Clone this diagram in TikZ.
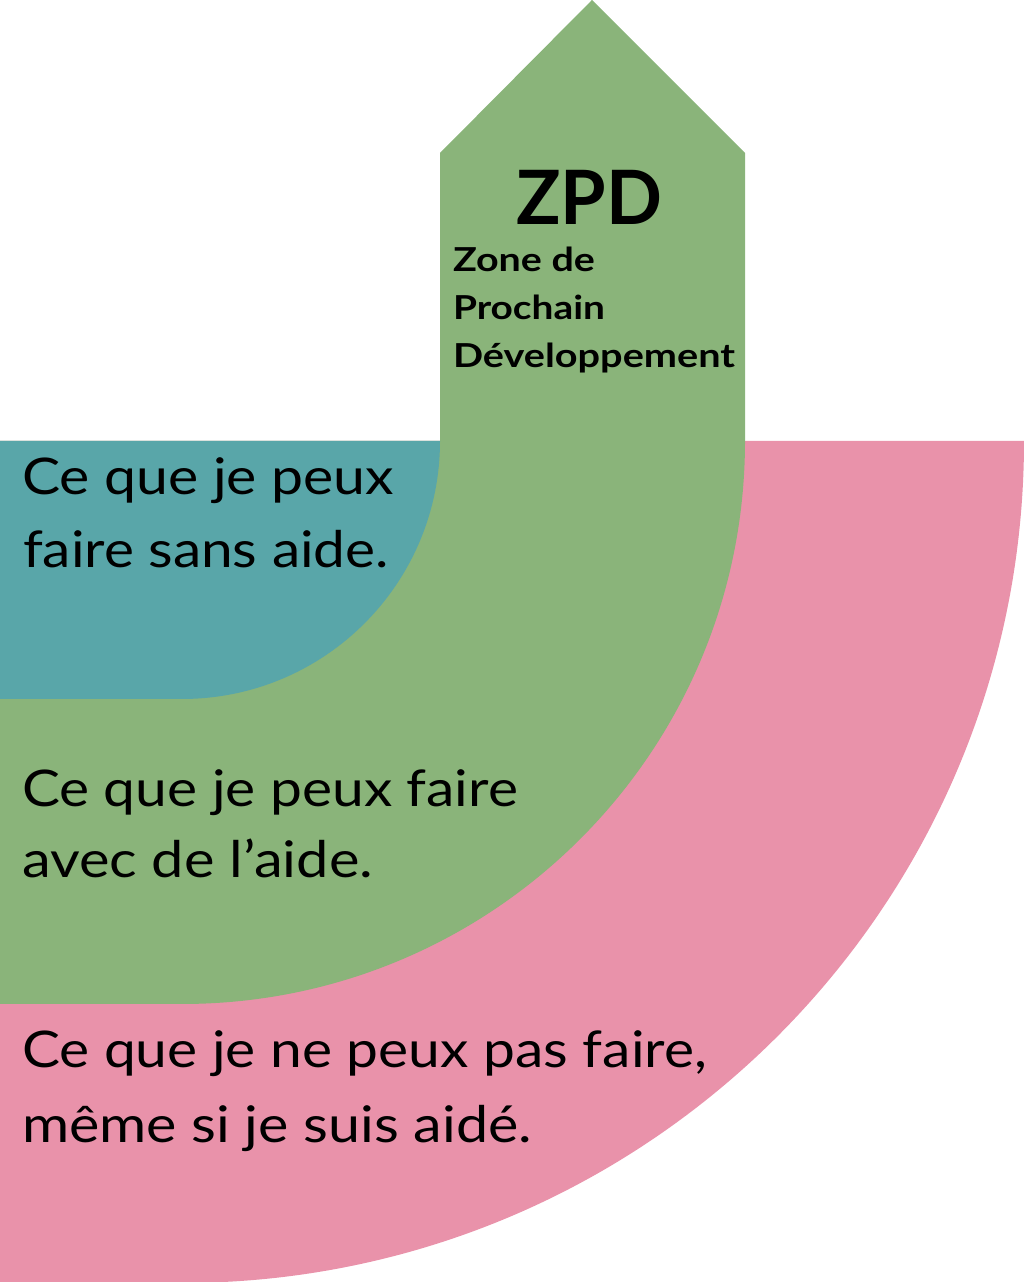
\documentclass[tikz,border=0pt]{standalone}
\usepackage{fontspec}
\setmainfont{Lato}
\usepackage{graphicx}
\definecolor{tealzone}{RGB}{89,166,169}
\definecolor{greenzone}{RGB}{138,180,122}
\definecolor{pinkzone}{RGB}{233,146,170}
\newcommand{\fitw}[2]{\resizebox{#1}{\height}{#2}}
\tikzset{
  lbl/.style={anchor=base west, inner sep=0pt, outer sep=0pt, text=black},
  body/.style={lbl, font=\fontsize{50.5}{60}\selectfont},
  zpdtitle/.style={lbl, font=\bfseries\fontsize{75}{90}\selectfont},
  zpdsub/.style={lbl, font=\bfseries\fontsize{33}{40}\selectfont}
}
\begin{document}
\begin{tikzpicture}[x=1pt,y=1pt]
\useasboundingbox (0,0) rectangle (1024,1282);
% outer zone
\fill[pinkzone] (0,841) -- (1024,841) arc[start angle=0,end angle=-90,radius=842] -- (0,-1) -- cycle;
% ZPD arrow + band
\fill[greenzone] (440,1129) -- (592,1282) -- (745,1129) -- (745,841)
  arc[start angle=0,end angle=-90,radius=563] -- (0,278) -- (0,841) -- (440,841) -- cycle;
% inner zone
\fill[tealzone] (0,841) -- (440,841) arc[start angle=0,end angle=-90,radius=258] -- (0,583) -- cycle;
% texts
\node[body] (a1) at (22,787) {\fitw{372pt}{Ce que je peux}};
\node[body] (a2) at (23,714) {\fitw{366pt}{faire sans aide.}};
\node[body] (b1) at (22,475) {\fitw{496pt}{Ce que je peux faire}};
\node[body] (b2) at (22,404) {\fitw{351pt}{avec de l’aide.}};
\node[body] (c1) at (22,214) {\fitw{685pt}{Ce que je ne peux pas faire,}};
\node[body] (c2) at (22,139) {\fitw{510pt}{même si je suis aidé.}};
\node[zpdtitle] (zpd) at (516,1057) {\fitw{146pt}{ZPD}};
\node[zpdsub] (z1) at (453,1010) {\fitw{142pt}{Zone de}};
\node[zpdsub] (z2) at (453,962) {\fitw{152pt}{Prochain}};
\node[zpdsub] (z3) at (453,914) {\fitw{282pt}{Développement}};
\end{tikzpicture}
\end{document}
